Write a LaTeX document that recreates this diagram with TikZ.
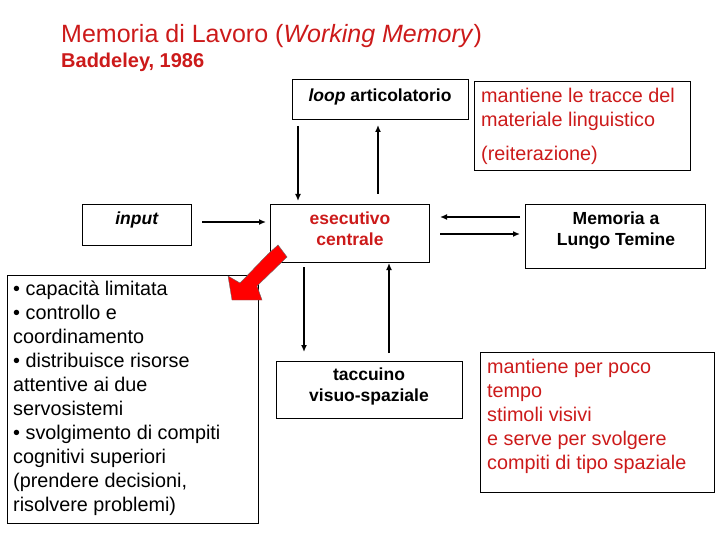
\documentclass[tikz,border=0pt]{standalone}
\usepackage{fontspec}
\setmainfont{Liberation Sans}
\usetikzlibrary{arrows.meta}
\definecolor{rd}{HTML}{CC1A1A}
\begin{document}
\begin{tikzpicture}[x=1pt,y=-1pt,
 box/.style={draw,line width=1pt,inner sep=0pt},
 arr/.style={line width=2.4pt,-{Latex[length=7pt,width=6pt]}},
 lbl/.style={anchor=north,align=center,inner sep=0pt,font=\fontsize{17.5}{21}\selectfont\bfseries},
 txt/.style={anchor=north west,align=left,inner sep=0pt,font=\fontsize{19.8}{24}\selectfont}]
\useasboundingbox (0,0) rectangle (720,540);
\node[anchor=west,inner sep=0pt,text=rd,font=\fontsize{25}{28}\selectfont] (t1) at (61,36) {Memoria di Lavoro (\textit{Working Memory})};
\node[anchor=west,inner sep=0pt,text=rd,font=\fontsize{20}{22}\selectfont\bfseries] (t2) at (61,62) {Baddeley, 1986};
% boxes
\draw[box] (292,80) rectangle (468,120);
\node[lbl] (loop) at (380,89) {\textit{loop} articolatorio};
\draw[box] (474,82) rectangle (690,171);
\node[txt,text=rd] (m1) at (481,88) {mantiene le tracce del\\materiale linguistico};
\node[txt,text=rd] (m2) at (481,146) {(reiterazione)};
\draw[box] (82,205) rectangle (191,245);
\node[lbl] (inp) at (137,212) {\textit{input}};
\draw[box] (270,205) rectangle (429,262);
\node[lbl,text=rd] (ese) at (350,212) {esecutivo\\centrale};
\draw[box] (525,205) rectangle (705,268);
\node[lbl] (mlt) at (616,212) {Memoria a\\Lungo Temine};
\draw[box] (276,361) rectangle (462,418);
\node[lbl] (tac) at (369,368) {taccuino\\visuo-spaziale};
\draw[box] (480,352) rectangle (714,492);
\node[txt,text=rd] (rb) at (487,359) {mantiene per poco\\tempo\\stimoli visivi\\e serve per svolgere\\compiti di tipo spaziale};
\draw[line width=0.6pt] (7,275) rectangle (258,523);
\node[txt] (lb) at (13,281) {• capacità limitata\\• controllo e\\coordinamento\\• distribuisce risorse\\attentive ai due\\servosistemi\\• svolgimento di compiti\\cognitivi superiori\\(prendere decisioni,\\risolvere problemi)};
% arrows
\coordinate (a1s) at (298,126); \coordinate (a1e) at (298,201);
\coordinate (a2s) at (378,194); \coordinate (a2e) at (378,125);
\draw[arr] (a1s) -- (a1e);
\draw[arr] (a2s) -- (a2e);
\coordinate (b1s) at (202,222); \coordinate (b1e) at (266,222);
\draw[line width=1.6pt,-{Latex[length=7pt,width=6pt]}] (b1s) -- (b1e);
\coordinate (c1s) at (520,217); \coordinate (c1e) at (440,217);
\coordinate (c2s) at (440,234); \coordinate (c2e) at (520,234);
\draw[arr] (c1s) -- (c1e);
\draw[arr] (c2s) -- (c2e);
\coordinate (d1s) at (304,267); \coordinate (d1e) at (304,352);
\coordinate (d2s) at (389,353); \coordinate (d2e) at (389,263);
\draw[arr] (d1s) -- (d1e);
\draw[arr] (d2s) -- (d2e);
% red block arrow
\fill[red,draw=black!60,line width=0.4pt] (278,245) -- (287,257) -- (257,286) -- (262,300) -- (232,300) -- (228,276) -- (240,283) -- (268,254) -- cycle;
\end{tikzpicture}
\end{document}
